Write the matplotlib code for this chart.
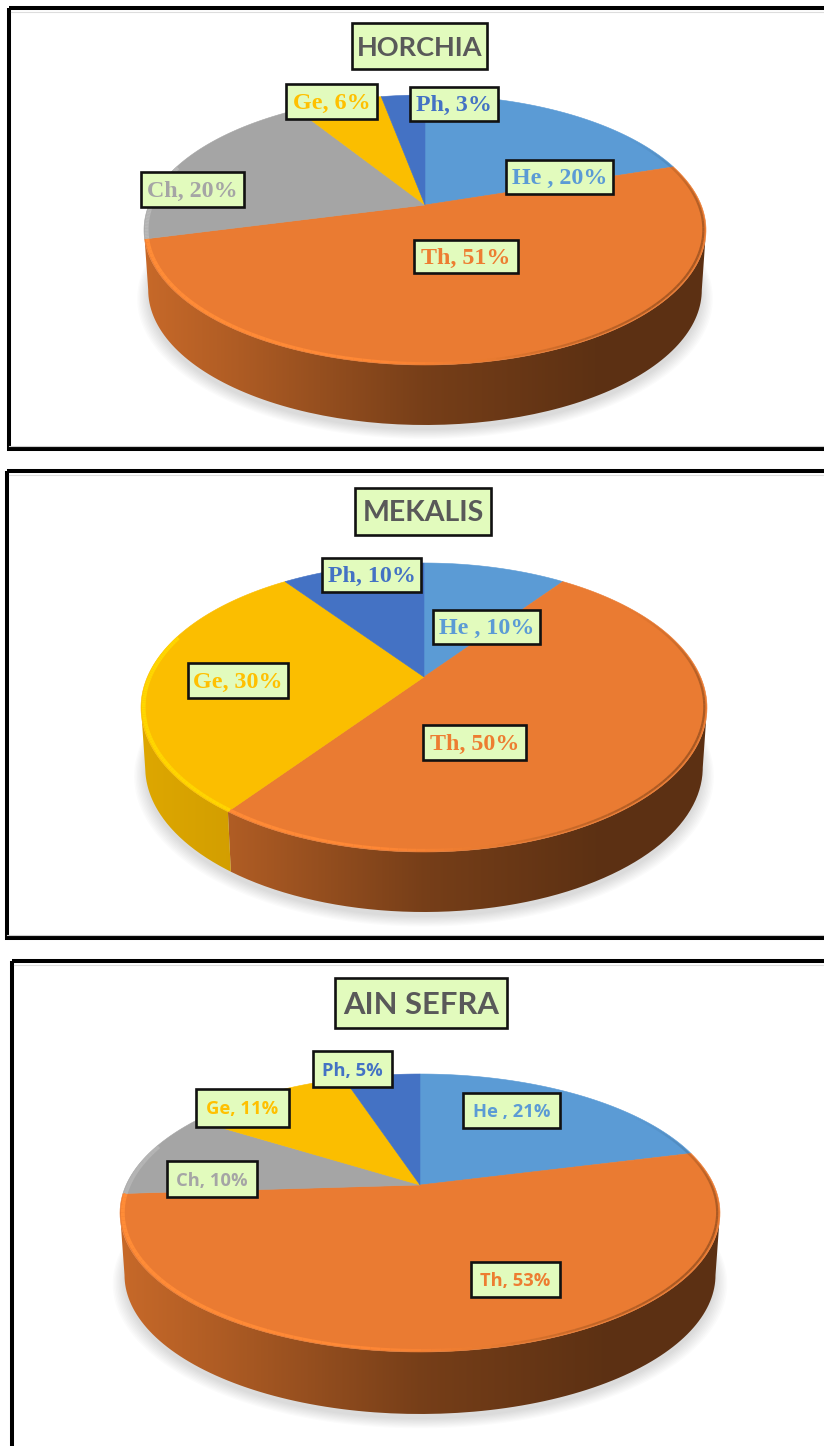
"""Three pseudo-3D pie charts of life forms for HORCHIA, MEKALIS and AIN SEFRA."""
import matplotlib

matplotlib.use("Agg")
import matplotlib.pyplot as plt
import numpy as np
from matplotlib.collections import LineCollection
from matplotlib.patches import Polygon, Rectangle

# data
series_names = ["He ", "Th", "Ch", "Ge", "Ph"]
horchia_values = [20, 51, 20, 6, 3]
mekalis_values = [10, 50, 0, 30, 10]
ain_sefra_values = [21, 53, 10, 11, 5]
colors = ["#5B9BD5", "#ED7D31", "#A5A5A5", "#FFC000", "#4472C4"]

BOX_FILL = "#E2FBBD"
W, H = 824, 1446

# layout per panel: frame, pie geometry (apex, half width, perspective, depth),
# title box and label boxes (x0, y0, x1, y1) in picture pixels
panels = [
    dict(title="HORCHIA", values=horchia_values, frame=(9, 8, 449),
         cx=425, cy=205, far=110, near=160, rx=281, depth=60,
         title_box=(352, 23, 487, 69), title_size=19.5, font="Liberation Serif", size=17.3,
         boxes={"He ": (506, 160, 613, 194), "Th": (414, 240, 518, 273),
                "Ch": (141, 172, 244, 207), "Ge": (286, 84, 377, 119),
                "Ph": (410, 87, 498, 121)}),
    dict(title="MEKALIS", values=mekalis_values, frame=(7, 471, 938),
         cx=424, cy=677, far=114, near=175, rx=283, depth=60,
         title_box=(355, 488, 491, 535), title_size=20.5, font="Liberation Serif", size=17.3,
         boxes={"He ": (433, 610, 540, 644), "Th": (423, 725, 526, 760),
                "Ge": (188, 663, 288, 698), "Ph": (322, 558, 421, 592)}),
    dict(title="AIN SEFRA", values=ain_sefra_values, frame=(12, 961, 1500),
         cx=420, cy=1185, far=111, near=167, rx=300, depth=62,
         title_box=(335, 978, 507, 1028), title_size=22.3, font="Open Sans", size=13.2,
         boxes={"He ": (463, 1093, 560, 1128), "Th": (471, 1262, 560, 1297),
                "Ch": (167, 1161, 257, 1197), "Ge": (196, 1089, 289, 1127),
                "Ph": (313, 1051, 392, 1087)}),
]


def perspective(p):
    return (p["near"] - p["far"]) / (p["near"] + p["far"])


def project(p, angle, radius=1.0, drop=0.0, scale=1.0):
    """Disc angle (clockwise from 12 o'clock) to picture pixels, with perspective."""
    k = perspective(p)
    b = p["far"] * (1 + k)
    a = p["rx"] * np.sqrt(1 - k ** 2)
    xd = radius * np.sin(angle)
    yd = radius * np.cos(angle)
    den = 1 + k * yd
    return p["cx"] + scale * a * xd / den, p["cy"] - b * yd / den + drop


def wall_shade(t):
    # light on the left of the rim, dark from the centre to the right
    return np.interp(t, [-1, -0.68, 0, 0.62, 1], [0.84, 0.74, 0.5, 0.39, 0.39])


def wall_ranges(p, edges):
    """Front part of each slice, from silhouette to silhouette; slivers join the slice before."""
    th_right = np.arccos(-perspective(p))
    th_left = 2 * np.pi - th_right
    ranges = []
    for i, color in enumerate(colors):
        start, end = max(edges[i], th_right), min(edges[i + 1], th_left)
        if end <= start:
            continue
        if end - start < np.radians(6) and ranges:
            ranges[-1][2] = end
            continue
        ranges.append([color, start, end])
    return ranges


def draw_pie(ax, p):
    values = np.array(p["values"], dtype=float)
    edges = np.concatenate([[0], np.cumsum(values)]) / values.sum() * 2 * np.pi

    # soft shadow below the disc
    whole = np.linspace(0, 2 * np.pi, 240)
    for s in np.linspace(1.04, 1.0, 9):
        x, y = project(p, whole, drop=p["depth"] + 5, scale=s * 0.985)
        y = y + (y - p["cy"]) * (s - 1)
        ax.fill(x, y, color="black", alpha=0.016, lw=0, zorder=1)

    left, right = p["cx"] - p["rx"], p["cx"] + p["rx"]
    grad_x = np.linspace(-1, 1, 300)

    # side wall, shaded left to right
    for color, start, end in wall_ranges(p, edges):
        th = np.linspace(start, end, 120)
        rgb = np.array(matplotlib.colors.to_rgb(color))
        xt, yt = project(p, th)
        xb, yb = project(p, th, drop=p["depth"], scale=0.985)
        wall = np.column_stack([np.r_[xt, xb[::-1]], np.r_[yt, yb[::-1]]])
        if color == "#FFC000":
            shade = 0.87 - (grad_x + 1) * 0.14
        else:
            shade = wall_shade(grad_x)
        img = (shade[None, :, None] * rgb[None, None, :]).clip(0, 1)
        im = ax.imshow(img, extent=(left, right, p["cy"] + p["near"] + p["depth"] + 5,
                                    p["cy"] - p["far"]),
                       aspect="auto", interpolation="bilinear", zorder=2)
        im.set_clip_path(matplotlib.path.Path(wall), transform=ax.transData)

    for i, color in enumerate(colors):
        if values[i] == 0:
            continue
        th = np.linspace(edges[i], edges[i + 1], 120)
        xt, yt = project(p, th)
        top = np.column_stack([np.r_[p["cx"], xt], np.r_[p["cy"], yt]])
        top_color = "#EA7B32" if color == "#ED7D31" else ("#FBBE00" if color == "#FFC000" else color)
        ax.add_patch(Polygon(top, closed=True, fc=top_color, ec=top_color, lw=0.4, zorder=3))

        # bevel on the front of the rim: bright left, dark and faded right
        front = th[(th > np.pi * 0.3) & (th < np.pi * 1.6)]
        if len(front) > 1:
            xr, yr = project(p, front, radius=0.991)
            pts = np.column_stack([xr, yr])
            segs = np.stack([pts[:-1], pts[1:]], axis=1)
            t = (xr[:-1] - p["cx"]) / p["rx"]
            f = np.interp(t, [-1, -0.2, 0.25, 1], [1.12, 1.09, 0.98, 0.55])
            alpha = np.interp(front[:-1], np.pi * np.array([0.3, 0.5, 1.0]), [0.0, 0.55, 1.0])
            rgb = np.array(matplotlib.colors.to_rgb(color))
            seg_colors = np.column_stack([(f[:, None] * rgb[None, :]).clip(0, 1), alpha])
            widths = np.interp(t, [-1, -0.3, 0.3, 1], [2.8, 2.0, 1.4, 1.6])
            ax.add_collection(LineCollection(segs, colors=seg_colors, linewidths=widths,
                                             zorder=4, capstyle="butt"))


def draw_frame(ax, x, top, bottom):
    ax.add_patch(Rectangle((x, top), W + 20, bottom - top, fc="none", ec="black",
                           lw=2.9, zorder=5))
    ax.plot([x + 2, W], [top + 3.5, top + 3.5], color="#dddddd", lw=0.8, zorder=5)
    if bottom < H:
        ax.plot([x, W], [bottom - 3, bottom - 3], color="#cccccc", lw=0.8, zorder=5)


def boxed_text(ax, box, text, **kwargs):
    x0, y0, x1, y1 = box
    ax.add_patch(Rectangle((x0, y0), x1 - x0, y1 - y0, fc=BOX_FILL, ec="#111111", lw=1.9,
                           zorder=6))
    ax.text((x0 + x1) / 2, (y0 + y1) / 2 + 1.5, text, ha="center", va="center", zorder=7,
            **kwargs)


def draw_labels(ax, p):
    boxed_text(ax, p["title_box"], p["title"], family="Lato", weight="bold",
               size=p["title_size"], color="#595959")
    for name, value, color in zip(series_names, p["values"], colors):
        if value == 0:
            continue
        boxed_text(ax, p["boxes"][name], f"{name}, {value}%", family=p["font"], weight="bold",
                   size=p["size"], color=color)


fig = plt.figure(figsize=(W / 100, H / 100), dpi=100, facecolor="white")
ax = fig.add_axes([0, 0, 1, 1])

for p in panels:
    draw_frame(ax, *p["frame"])
    draw_pie(ax, p)
    draw_labels(ax, p)

ax.set_xlim(0, W)
ax.set_ylim(H, 0)
ax.axis("off")
fig.savefig("out.png", dpi=100)
